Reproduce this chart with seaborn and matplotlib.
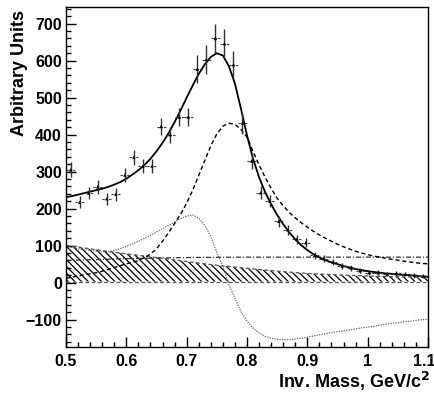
import numpy as np
import pandas as pd
import matplotlib
matplotlib.use("Agg")
import matplotlib.pyplot as plt
import matplotlib.transforms as mtransforms
import seaborn as sns

# measured spectrum: 40 bins of 15 MeV between 0.5 and 1.1
bin_centers = np.round(0.5075 + 0.015 * np.arange(40), 4)
counts = [305, 217, 242, 259, 227, 239, 291, 339, 315, 315,
          422, 400, 447, 448, 577, 603, 660, 646, 589, 431,
          329, 243, 221, 166, 143, 117, 108, 74, 65, 56,
          45, 40, 32, 27, 27, 23, 25, 23, 20, 18]
count_err = [20, 16, 17, 18, 16, 17, 19, 20, 19, 19,
             23, 22, 24, 24, 37, 38, 40, 39, 36, 28,
             22, 18, 17, 15, 14, 13, 12, 10, 10, 9,
             8, 8, 7, 7, 7, 6, 6, 6, 6, 5]
bin_half = 0.0075

mass = np.round(np.linspace(0.5, 1.1, 61), 2)
total_fit = [231, 234, 238, 242, 246, 250, 254, 259, 265, 272,
             281, 292, 304, 318, 335, 355, 378, 404, 434, 466,
             500, 533, 564, 590, 610, 620, 614, 585, 538, 470,
             398, 335, 285, 245, 212, 183, 158, 136, 117, 101,
             88, 77, 68, 61, 55, 50, 45, 41, 37, 34,
             31, 29, 27, 25, 24, 22, 21, 20, 19, 17, 16]
rho_bw = [12, 15, 18, 21, 24, 27, 31, 36, 41, 46,
          51, 55, 60, 68, 77, 92, 112, 135, 160, 185,
          215, 250, 290, 330, 370, 402, 423, 431, 428, 414,
          393, 355, 318, 285, 255, 228, 208, 190, 175, 162,
          150, 139, 129, 120, 112, 104, 97, 91, 85, 80,
          76, 72, 69, 66, 63, 61, 58, 56, 54, 52, 51]
interference = [98, 95, 92, 89, 87, 85, 84, 84, 87, 92,
                98, 105, 112, 120, 128, 137, 146, 155, 164, 173,
                180, 183, 174, 155, 125, 82, 43, -5, -42, -78,
                -104, -123, -136, -145, -150, -153, -154, -154, -152, -150,
                -147, -144, -141, -138, -135, -132, -130, -128, -125, -122,
                -120, -118, -115, -112, -110, -108, -106, -104, -102, -100, -99]

# background band and constant term
band_mass = [0.5, 0.55, 0.6, 0.65, 0.7, 0.75, 0.8, 0.85, 0.9, 0.95, 1.0, 1.05, 1.1]
band_high = [101, 89, 78, 68, 57, 47, 39, 31, 25, 21, 18, 16, 15]
band_low = [3, 3, 3, 3, 3, 3, 3, 3, 3, 3, 3, 3, 3]
const_mass = [0.5, 0.6, 0.7, 0.8, 0.9, 1.0, 1.1]
const_term = [60, 65, 68, 69, 69, 69, 69]

sns.set_style("ticks")
plt.rcParams["font.family"] = ["Liberation Sans", "DejaVu Sans"]
plt.rcParams["hatch.linewidth"] = 0.9
plt.rcParams["text.color"] = "black"
plt.rcParams["axes.labelcolor"] = "black"
plt.rcParams["xtick.color"] = "black"
plt.rcParams["ytick.color"] = "black"
plt.rcParams["axes.edgecolor"] = "black"

fig = plt.figure(figsize=(4.35, 3.95), dpi=100)
ax = fig.add_axes([66 / 435, 1 - 346.7 / 395, 362 / 435, 339.7 / 395])

# hatched background band
ax.fill_between(band_mass, band_low, band_high, facecolor="none", edgecolor="black",
                hatch="\\\\\\\\\\", linewidth=0)
sns.lineplot(x=band_mass, y=band_high, ax=ax, color="#555555", lw=0.9,
             linestyle=(0, (3, 2)), estimator=None)
sns.lineplot(x=band_mass, y=band_low, ax=ax, color="#555555", lw=0.9,
             linestyle=(0, (3, 2)), estimator=None)

sns.lineplot(x=const_mass, y=const_term, ax=ax, color="#333333", lw=0.9,
             linestyle=(0, (4, 1.5, 1, 1.5)), estimator=None)
sns.lineplot(x=mass, y=interference, ax=ax, color="#666666", lw=0.9,
             linestyle=(0, (1, 1)), estimator=None)
sns.lineplot(x=mass, y=rho_bw, ax=ax, color="black", lw=1.0,
             linestyle=(0, (3, 2)), estimator=None)
sns.lineplot(x=mass, y=total_fit, ax=ax, color="black", lw=1.3, estimator=None)

# data points with error bars
ax.vlines(bin_centers, np.array(counts) - np.array(count_err),
          np.array(counts) + np.array(count_err), color="#333333", lw=1.0)
ax.hlines(counts, bin_centers - bin_half, bin_centers + bin_half, color="#333333",
          lw=0.8, linestyle=(0, (2, 1)))
sns.scatterplot(x=bin_centers, y=counts, ax=ax, marker="^", s=6, color="black",
                edgecolor="none", zorder=5)

ax.set_xlim(0.5, 1.1)
ax.set_ylim(-173, 745)
ax.set_xticks(np.round(np.arange(0.5, 1.101, 0.1), 1))
ax.set_xticklabels(["0.5", "0.6", "0.7", "0.8", "0.9", "1", "1.1"])
ax.set_xticks(np.round(np.arange(0.5, 1.101, 0.02), 2), minor=True)
ax.set_yticks([-100, 0, 100, 200, 300, 400, 500, 600, 700])
ax.set_yticks(np.arange(-160, 741, 20), minor=True)
ax.tick_params(which="major", direction="in", length=7.5, width=1.0,
               labelsize=11.5, pad=3, top=False, right=False)
ax.tick_params(which="minor", direction="in", length=3.8, width=1.0,
               top=False, right=False)
ax.tick_params(axis="x", which="major", pad=5)
for lab in ax.get_xticklabels() + ax.get_yticklabels():
    lab.set_fontweight("bold")
# keep the last x label inside the canvas
last = ax.get_xticklabels()[-1]
last.set_transform(last.get_transform() +
                   mtransforms.ScaledTranslation(-4 / 100, 0, fig.dpi_scale_trans))
for sp in ax.spines.values():
    sp.set_visible(True)
    sp.set_linewidth(1.0)

ax.set_xlabel("Inv. Mass, GeV/c$^\\mathbf{2}$", fontsize=13, fontweight="bold",
              loc="right")
ax.set_ylabel("Arbitrary Units", fontsize=13, fontweight="bold", loc="top")
ax.xaxis.set_label_coords(1.006, -0.068)
ax.yaxis.set_label_coords(-0.105, 0.991)

fig.savefig("out.png", dpi=100)
